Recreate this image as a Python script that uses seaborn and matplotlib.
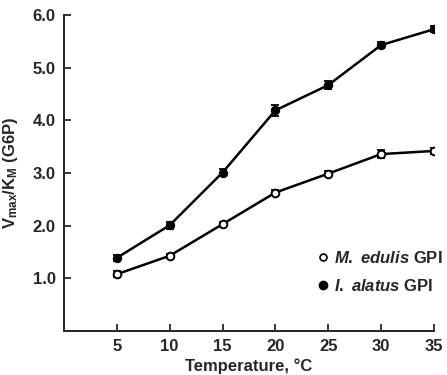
import matplotlib
matplotlib.use("Agg")
import matplotlib.pyplot as plt
from matplotlib.lines import Line2D
import seaborn as sns
import pandas as pd

# Temperature series (°C) and Vmax/KM values for each enzyme
temperature = [5, 10, 15, 20, 25, 30, 35]
edulis_vals = [1.08, 1.43, 2.03, 2.63, 2.99, 3.36, 3.42]
edulis_err = [0.06, 0.04, 0.05, 0.05, 0.05, 0.07, 0.06]
alatus_vals = [1.39, 2.01, 3.01, 4.19, 4.67, 5.43, 5.73]
alatus_err = [0.06, 0.07, 0.07, 0.10, 0.08, 0.06, 0.06]

y_ticks = [1.0, 2.0, 3.0, 4.0, 5.0, 6.0]
x_ticks = [5, 10, 15, 20, 25, 30, 35]

sns.set_style("ticks")
plt.rcParams["font.family"] = ["Liberation Sans", "DejaVu Sans"]
plt.rcParams["font.weight"] = "bold"
plt.rcParams["mathtext.fontset"] = "custom"
plt.rcParams["mathtext.rm"] = "Liberation Sans:bold"
plt.rcParams["mathtext.it"] = "Liberation Sans:italic:bold"
plt.rcParams["mathtext.bf"] = "Liberation Sans:bold"

edulis_label = r"$\it{M.\ edulis}$ GPI"
alatus_label = r"$\it{I.\ alatus}$ GPI"

edulis_df = pd.DataFrame({"Temperature": temperature, "value": edulis_vals})
alatus_df = pd.DataFrame({"Temperature": temperature, "value": alatus_vals})

fig = plt.figure(figsize=(4.47, 3.75), dpi=100)
ax = fig.add_axes([0.143, 0.117, 0.828, 0.843])

sns.lineplot(data=edulis_df, x="Temperature", y="value", color="black",
             marker="o", markersize=5.5, markerfacecolor="white",
             markeredgecolor="black", markeredgewidth=1.4,
             linewidth=1.8, ax=ax, zorder=3)
sns.lineplot(data=alatus_df, x="Temperature", y="value", color="black",
             marker="o", markersize=6, markerfacecolor="black",
             markeredgecolor="black", linewidth=1.8, ax=ax, zorder=3)

ax.errorbar(temperature, edulis_vals, yerr=edulis_err, fmt="none",
            ecolor="black", elinewidth=1.2, capsize=3, capthick=1.3, zorder=2)
ax.errorbar(temperature, alatus_vals, yerr=alatus_err, fmt="none",
            ecolor="black", elinewidth=1.2, capsize=3, capthick=1.3, zorder=2)

ax.set_xlim(0, 35)
ax.set_ylim(0, 6.0)
ax.set_xticks(x_ticks)
ax.set_yticks(y_ticks)
ax.set_yticklabels([f"{v:.1f}" for v in y_ticks])
ax.tick_params(direction="in", length=5, width=1.3, labelsize=12, pad=6)
for lab in ax.get_xticklabels() + ax.get_yticklabels():
    lab.set_fontweight("bold")

sns.despine(ax=ax)
for s in ["left", "bottom"]:
    ax.spines[s].set_linewidth(1.4)

ax.set_xlabel("Temperature, °C", fontsize=12, fontweight="bold", labelpad=3)
ax.set_ylabel(r"V$_{\rm max}$/K$_{\rm M}$ (G6P)", fontsize=12, fontweight="bold", labelpad=9)

handles = [
    Line2D([], [], marker="o", linestyle="none", markerfacecolor="white",
           markeredgecolor="black", markeredgewidth=1.2, markersize=5),
    Line2D([], [], marker="o", linestyle="none", markerfacecolor="black",
           markeredgecolor="black", markersize=6),
]
ax.legend(handles, [edulis_label, alatus_label], frameon=False, loc="lower right",
          bbox_to_anchor=(1.05, 0.085), fontsize=12, handletextpad=0.15,
          labelspacing=0.75, handlelength=1.0, borderaxespad=0.2)

fig.savefig("out.png", dpi=100)
